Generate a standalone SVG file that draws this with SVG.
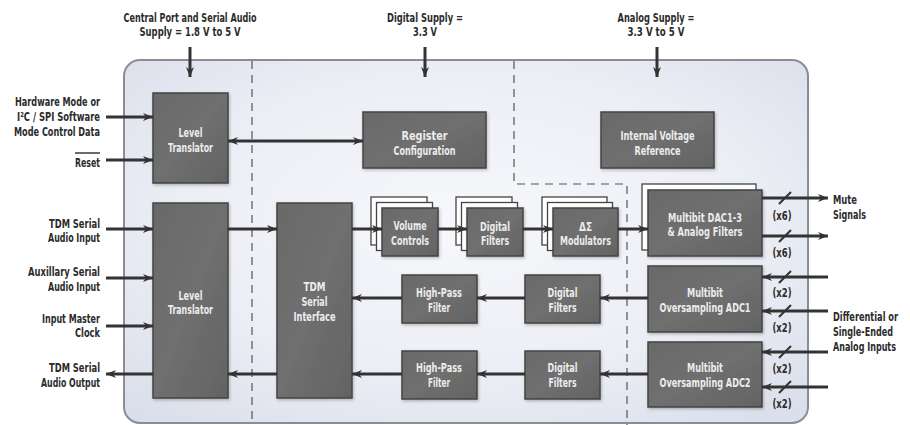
<svg xmlns="http://www.w3.org/2000/svg" width="910" height="425" viewBox="0 0 910 425">
<defs>
<radialGradient id="bg" cx="0.5" cy="0.45" r="0.7">
<stop offset="0" stop-color="#f7f8fb"/>
<stop offset="0.6" stop-color="#eceef5"/>
<stop offset="1" stop-color="#dbdfeb"/>
</radialGradient>
<linearGradient id="blk" x1="0" y1="0" x2="1" y2="1">
<stop offset="0" stop-color="#6a6a6a"/>
<stop offset="0.5" stop-color="#6f6f6f"/>
<stop offset="1" stop-color="#636363"/>
</linearGradient>
<filter id="sh" x="-20%" y="-20%" width="140%" height="140%">
<feDropShadow dx="1" dy="1.5" stdDeviation="1.5" flood-color="#000" flood-opacity="0.25"/>
</filter>
<marker id="ah" viewBox="0 0 10 8" refX="10" refY="4" markerWidth="10" markerHeight="8" markerUnits="userSpaceOnUse" orient="auto-start-reverse">
<path d="M0,0 L10,4 L0,8 L3,4 z" fill="#333"/>
</marker>
</defs>
<style>
.t{font-family:"DejaVu Sans Condensed","DejaVu Sans",sans-serif;font-weight:bold;font-size:13px;fill:#2b2b2b}
.w{font-family:"DejaVu Sans Condensed","DejaVu Sans",sans-serif;font-weight:bold;font-size:13px;fill:#ececec}
.m{text-anchor:middle}
.e{text-anchor:end}
.b{fill:url(#blk);stroke:#444;stroke-width:1.5;filter:url(#sh)}
.k{fill:#ffffff;stroke:#444;stroke-width:1.3}
.a{stroke:#333;stroke-width:3;fill:none;marker-end:url(#ah)}
.d{stroke:#555;stroke-width:1.2;fill:none;stroke-dasharray:8 6}
.s{stroke:#333;stroke-width:2;fill:none}
</style>

<rect x="124" y="60" width="684" height="363" rx="16" ry="16" fill="url(#bg)" stroke="#8a8d96" stroke-width="2"/>
<path class="d" d="M252,61 V425"/>
<path class="d" d="M514,61 V184 H627 V425"/>

<g id="labels">
<text class="t m" x="190" y="22" textLength="133" lengthAdjust="spacingAndGlyphs">Central Port and Serial Audio</text>
<text class="t m" x="190" y="36" textLength="101" lengthAdjust="spacingAndGlyphs">Supply = 1.8 V to 5 V</text>
<text class="t m" x="425" y="22" textLength="76" lengthAdjust="spacingAndGlyphs">Digital Supply =</text>
<text class="t m" x="425" y="36" textLength="24" lengthAdjust="spacingAndGlyphs">3.3 V</text>
<text class="t m" x="656" y="22" textLength="77" lengthAdjust="spacingAndGlyphs">Analog Supply =</text>
<text class="t m" x="656" y="36" textLength="57" lengthAdjust="spacingAndGlyphs">3.3 V to 5 V</text>
<text class="t e" x="100" y="106" textLength="85" lengthAdjust="spacingAndGlyphs">Hardware Mode or</text>
<text class="t e" x="100" y="121" textLength="83" lengthAdjust="spacingAndGlyphs">I²C / SPI Software</text>
<text class="t e" x="100" y="136" textLength="86" lengthAdjust="spacingAndGlyphs">Mode Control Data</text>
<text class="t e" x="100" y="167" textLength="25" lengthAdjust="spacingAndGlyphs">Reset</text>
<path d="M75,153 H100" stroke="#2b2b2b" stroke-width="1.4"/>
<text class="t e" x="100" y="228" textLength="51" lengthAdjust="spacingAndGlyphs">TDM Serial</text>
<text class="t e" x="100" y="242" textLength="52" lengthAdjust="spacingAndGlyphs">Audio Input</text>
<text class="t e" x="100" y="276" textLength="72" lengthAdjust="spacingAndGlyphs">Auxillary Serial</text>
<text class="t e" x="100" y="291" textLength="52" lengthAdjust="spacingAndGlyphs">Audio Input</text>
<text class="t e" x="100" y="323" textLength="58" lengthAdjust="spacingAndGlyphs">Input Master</text>
<text class="t e" x="100" y="337" textLength="25" lengthAdjust="spacingAndGlyphs">Clock</text>
<text class="t e" x="100" y="372" textLength="51" lengthAdjust="spacingAndGlyphs">TDM Serial</text>
<text class="t e" x="100" y="387" textLength="59" lengthAdjust="spacingAndGlyphs">Audio Output</text>
<text class="t e" x="857" y="204" textLength="24" lengthAdjust="spacingAndGlyphs">Mute</text>
<text class="t e" x="866" y="219" textLength="33" lengthAdjust="spacingAndGlyphs">Signals</text>
<text class="t" transform="translate(833,321) scale(0.7,1)" textLength="92.9" lengthAdjust="spacingAndGlyphs">Differential or</text>
<text class="t" transform="translate(833,336) scale(0.7,1)" textLength="85.7" lengthAdjust="spacingAndGlyphs">Single-Ended</text>
<text class="t" transform="translate(833,351) scale(0.7,1)" textLength="90" lengthAdjust="spacingAndGlyphs">Analog Inputs</text>
<text class="t m" x="782" y="220" textLength="19" lengthAdjust="spacingAndGlyphs">(x6)</text>
<text class="t m" x="782" y="257" textLength="19" lengthAdjust="spacingAndGlyphs">(x6)</text>
<text class="t m" x="782" y="297" textLength="19" lengthAdjust="spacingAndGlyphs">(x2)</text>
<text class="t m" x="782" y="332" textLength="19" lengthAdjust="spacingAndGlyphs">(x2)</text>
<text class="t m" x="782" y="373" textLength="19" lengthAdjust="spacingAndGlyphs">(x2)</text>
<text class="t m" x="782" y="408" textLength="19" lengthAdjust="spacingAndGlyphs">(x2)</text>
</g>

<g id="lt-top">
<rect class="b" x="153" y="93" width="75" height="90"/>
<text class="w m" x="190.5" y="137" textLength="24" lengthAdjust="spacingAndGlyphs">Level</text>
<text class="w m" x="190.5" y="152" textLength="45" lengthAdjust="spacingAndGlyphs">Translator</text>
</g>
<g id="register">
<rect class="b" x="363" y="112" width="123" height="56"/>
<text class="w m" x="424.5" y="140" textLength="46" lengthAdjust="spacingAndGlyphs">Register</text>
<text class="w m" x="424.5" y="155" textLength="62" lengthAdjust="spacingAndGlyphs">Configuration</text>
</g>
<g id="vref">
<rect class="b" x="601" y="112" width="113" height="56"/>
<text class="w m" x="657.5" y="140" textLength="74" lengthAdjust="spacingAndGlyphs">Internal Voltage</text>
<text class="w m" x="657.5" y="155" textLength="46" lengthAdjust="spacingAndGlyphs">Reference</text>
</g>
<g id="lt-bottom">
<rect class="b" x="153" y="203" width="75" height="195"/>
<text class="w m" x="190.5" y="300" textLength="24" lengthAdjust="spacingAndGlyphs">Level</text>
<text class="w m" x="190.5" y="314" textLength="45" lengthAdjust="spacingAndGlyphs">Translator</text>
</g>
<g id="tdm">
<rect class="b" x="277" y="203" width="75" height="195"/>
<text class="w m" x="314.5" y="291" textLength="22" lengthAdjust="spacingAndGlyphs">TDM</text>
<text class="w m" x="314.5" y="306" textLength="26" lengthAdjust="spacingAndGlyphs">Serial</text>
<text class="w m" x="314.5" y="321" textLength="42" lengthAdjust="spacingAndGlyphs">Interface</text>
</g>
<g id="volume">
<rect class="k" x="371" y="197" width="56" height="48"/>
<rect class="k" x="376.5" y="202.5" width="56" height="48"/>
<rect class="b" x="382" y="208" width="56" height="48"/>
<text class="w m" x="410" y="230" textLength="33" lengthAdjust="spacingAndGlyphs">Volume</text>
<text class="w m" x="410" y="245" textLength="38" lengthAdjust="spacingAndGlyphs">Controls</text>
</g>
<g id="dfilt-top">
<rect class="k" x="456" y="197" width="56" height="48"/>
<rect class="k" x="461.5" y="202.5" width="56" height="48"/>
<rect class="b" x="467" y="208" width="56" height="48"/>
<text class="w m" x="495" y="231" textLength="30" lengthAdjust="spacingAndGlyphs">Digital</text>
<text class="w m" x="495" y="245" textLength="28" lengthAdjust="spacingAndGlyphs">Filters</text>
</g>
<g id="modulators">
<rect class="k" x="542" y="197" width="65" height="48"/>
<rect class="k" x="547.5" y="202.5" width="65" height="48"/>
<rect class="b" x="553" y="208" width="65" height="48"/>
<text class="w m" x="585.5" y="231" textLength="13" lengthAdjust="spacingAndGlyphs">ΔΣ</text>
<text class="w m" x="585.5" y="245" textLength="51" lengthAdjust="spacingAndGlyphs">Modulators</text>
</g>
<g id="dac">
<rect class="k" x="642" y="184" width="114" height="66"/>
<rect class="b" x="648" y="190" width="114" height="66"/>
<text class="w m" x="705" y="222" textLength="74" lengthAdjust="spacingAndGlyphs">Multibit DAC1-3</text>
<text class="w m" x="705" y="236" textLength="75" lengthAdjust="spacingAndGlyphs">&amp; Analog Filters</text>
</g>
<g id="adc1">
<rect class="b" x="648" y="266" width="114" height="66"/>
<text class="w m" x="705" y="297" textLength="36" lengthAdjust="spacingAndGlyphs">Multibit</text>
<text class="w m" x="705" y="312" textLength="91" lengthAdjust="spacingAndGlyphs">Oversampling ADC1</text>
</g>
<g id="adc2">
<rect class="b" x="648" y="342" width="114" height="65"/>
<text class="w m" x="705" y="372" textLength="36" lengthAdjust="spacingAndGlyphs">Multibit</text>
<text class="w m" x="705" y="387" textLength="91" lengthAdjust="spacingAndGlyphs">Oversampling ADC2</text>
</g>
<g id="dfilt-2">
<rect class="b" x="525" y="275" width="75" height="48"/>
<text class="w m" x="562.5" y="297" textLength="30" lengthAdjust="spacingAndGlyphs">Digital</text>
<text class="w m" x="562.5" y="312" textLength="28" lengthAdjust="spacingAndGlyphs">Filters</text>
</g>
<g id="dfilt-3">
<rect class="b" x="525" y="351" width="75" height="48"/>
<text class="w m" x="562.5" y="372" textLength="30" lengthAdjust="spacingAndGlyphs">Digital</text>
<text class="w m" x="562.5" y="387" textLength="28" lengthAdjust="spacingAndGlyphs">Filters</text>
</g>
<g id="hpf-2">
<rect class="b" x="402" y="275" width="75" height="48"/>
<text class="w m" x="439" y="297" textLength="46" lengthAdjust="spacingAndGlyphs">High-Pass</text>
<text class="w m" x="439" y="312" textLength="22" lengthAdjust="spacingAndGlyphs">Filter</text>
</g>
<g id="hpf-3">
<rect class="b" x="402" y="351" width="75" height="48"/>
<text class="w m" x="439" y="372" textLength="46" lengthAdjust="spacingAndGlyphs">High-Pass</text>
<text class="w m" x="439" y="387" textLength="22" lengthAdjust="spacingAndGlyphs">Filter</text>
</g>

<g id="connectors">
<path class="a" d="M190,47 V77"/>
<path class="a" d="M425,47 V77"/>
<path class="a" d="M657,47 V77"/>
<path class="a" d="M106,117 H153"/>
<path class="a" d="M106,160 H153"/>
<path class="a" d="M228,141 H363" style="marker-start:url(#ah)"/>
<path class="a" d="M106,229 H153"/>
<path class="a" d="M106,278 H153"/>
<path class="a" d="M106,326 H153"/>
<path class="a" d="M153,374 H106"/>
<path class="a" d="M228,229 H277"/>
<path class="a" d="M277,374 H228"/>
<path class="a" d="M402,298 H352"/>
<path class="a" d="M402,374 H352"/>
<path class="a" d="M352,229 H382"/>
<path class="a" d="M438,229 H467"/>
<path class="a" d="M523,229 H553"/>
<path class="a" d="M618,229 H648"/>
<path class="a" d="M525,298 H477"/>
<path class="a" d="M648,298 H600"/>
<path class="a" d="M525,374 H477"/>
<path class="a" d="M648,374 H600"/>
<path class="a" d="M762,198 H828"/>
<path class="a" d="M762,236 H828"/>
<path class="a" d="M828,277 H762"/>
<path class="a" d="M828,311 H762"/>
<path class="a" d="M828,352 H762"/>
<path class="a" d="M828,387 H762"/>
<path class="s" d="M779,204 L791,192 M779,242 L791,230 M779,283 L791,271 M779,317 L791,305 M779,358 L791,346 M779,393 L791,381"/>
</g>
</svg>
